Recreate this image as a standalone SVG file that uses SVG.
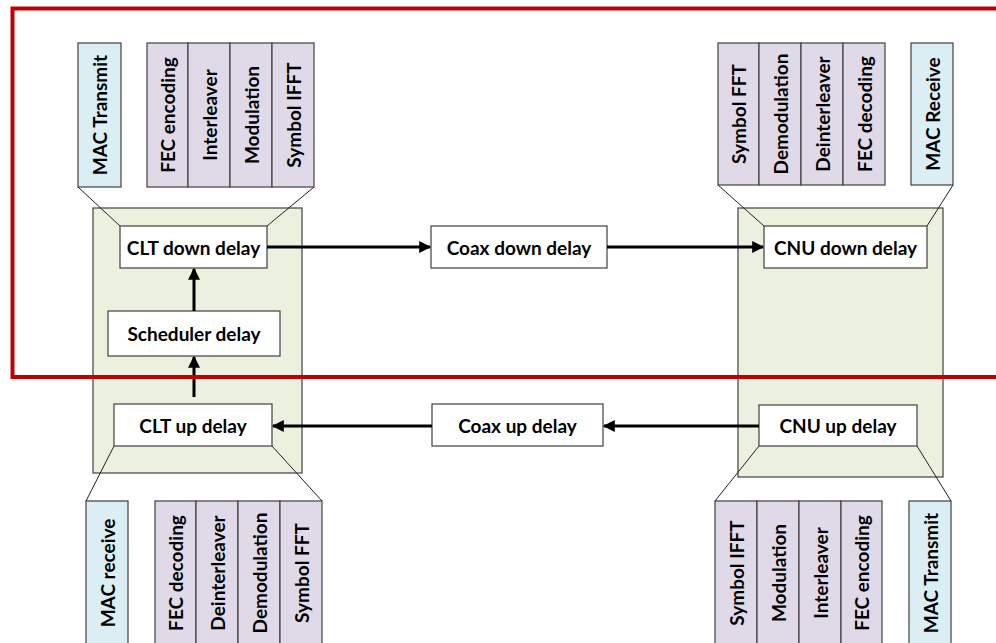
<svg xmlns="http://www.w3.org/2000/svg" width="996" height="643" viewBox="0 0 996 643">
<defs>
<style>
.bl{fill:#DAEEF3;stroke:#404040;stroke-width:1.2}
.pu{fill:#E0DAE8;stroke:#404040;stroke-width:1.2}
.gr{fill:#EBF1DE;stroke:#404040;stroke-width:1.2}
.wb{fill:#FFFFFF;stroke:#404040;stroke-width:1.2}
.zl{fill:none;stroke:#202020;stroke-width:1}
.t{font-family:Lato,"Open Sans",sans-serif;font-weight:bold;font-size:19px;fill:#000;text-anchor:middle;dominant-baseline:central}
.ar{fill:none;stroke:#000;stroke-width:3}
</style>
<marker id="ah" viewBox="0 0 10 10" refX="9" refY="5" markerWidth="4.5" markerHeight="4" orient="auto" markerUnits="strokeWidth">
<path d="M0,0 L10,5 L0,10 z" fill="#000"/>
</marker>
</defs>
<rect width="996" height="643" fill="#fff"/>

<g id="clt-block">
<rect class="gr" x="93" y="208" width="209" height="265"/>
</g>
<g id="cnu-block">
<rect class="gr" x="738" y="208" width="205" height="269"/>
</g>

<g id="zoom-lines">
<line class="zl" x1="78" y1="187" x2="120" y2="226"/>
<line class="zl" x1="314" y1="187" x2="267" y2="226"/>
<line class="zl" x1="718" y1="185" x2="764" y2="226"/>
<line class="zl" x1="953" y1="185" x2="927" y2="226"/>
<line class="zl" x1="114" y1="446" x2="86" y2="501"/>
<line class="zl" x1="272" y1="446" x2="322" y2="501"/>
<line class="zl" x1="759" y1="446" x2="715" y2="501"/>
<line class="zl" x1="917" y1="446" x2="951" y2="501"/>
</g>

<g id="clt-tx-mac"><rect class="bl" x="78" y="43" width="43" height="144"/><text class="t" transform="translate(99.5,115) rotate(-90)">MAC Transmit</text></g>
<g id="clt-tx-fec"><rect class="pu" x="147" y="43" width="41" height="144"/><text class="t" transform="translate(167.5,115) rotate(-90)">FEC encoding</text></g>
<g id="clt-tx-int"><rect class="pu" x="188" y="43" width="42" height="144"/><text class="t" transform="translate(209,115) rotate(-90)">Interleaver</text></g>
<g id="clt-tx-mod"><rect class="pu" x="230" y="43" width="42" height="144"/><text class="t" transform="translate(251,115) rotate(-90)">Modulation</text></g>
<g id="clt-tx-ifft"><rect class="pu" x="272" y="43" width="42" height="144"/><text class="t" transform="translate(293,115) rotate(-90)">Symbol IFFT</text></g>

<g id="cnu-rx-fft"><rect class="pu" x="718" y="43" width="41" height="142"/><text class="t" transform="translate(738.5,114) rotate(-90)">Symbol FFT</text></g>
<g id="cnu-rx-demod"><rect class="pu" x="759" y="43" width="42" height="142"/><text class="t" transform="translate(780,114) rotate(-90)">Demodulation</text></g>
<g id="cnu-rx-deint"><rect class="pu" x="801" y="43" width="42" height="142"/><text class="t" transform="translate(822,114) rotate(-90)">Deinterleaver</text></g>
<g id="cnu-rx-fec"><rect class="pu" x="843" y="43" width="42" height="142"/><text class="t" transform="translate(864,114) rotate(-90)">FEC decoding</text></g>
<g id="cnu-rx-mac"><rect class="bl" x="911" y="43" width="42" height="142"/><text class="t" transform="translate(932,114) rotate(-90)">MAC Receive</text></g>

<g id="clt-rx-mac"><rect class="bl" x="86" y="501" width="42" height="146"/><text class="t" transform="translate(107,573) rotate(-90)">MAC receive</text></g>
<g id="clt-rx-fec"><rect class="pu" x="155" y="501" width="41" height="146"/><text class="t" transform="translate(175.5,573) rotate(-90)">FEC decoding</text></g>
<g id="clt-rx-deint"><rect class="pu" x="196" y="501" width="42" height="146"/><text class="t" transform="translate(217,573) rotate(-90)">Deinterleaver</text></g>
<g id="clt-rx-demod"><rect class="pu" x="238" y="501" width="42" height="146"/><text class="t" transform="translate(259,573) rotate(-90)">Demodulation</text></g>
<g id="clt-rx-fft"><rect class="pu" x="280" y="501" width="42" height="146"/><text class="t" transform="translate(301,573) rotate(-90)">Symbol FFT</text></g>

<g id="cnu-tx-ifft"><rect class="pu" x="715" y="501" width="42" height="146"/><text class="t" transform="translate(736,573) rotate(-90)">Symbol IFFT</text></g>
<g id="cnu-tx-mod"><rect class="pu" x="757" y="501" width="42" height="146"/><text class="t" transform="translate(778,573) rotate(-90)">Modulation</text></g>
<g id="cnu-tx-int"><rect class="pu" x="799" y="501" width="42" height="146"/><text class="t" transform="translate(820,573) rotate(-90)">Interleaver</text></g>
<g id="cnu-tx-fec"><rect class="pu" x="841" y="501" width="41" height="146"/><text class="t" transform="translate(861.5,573) rotate(-90)">FEC encoding</text></g>
<g id="cnu-tx-mac"><rect class="bl" x="909" y="501" width="42" height="146"/><text class="t" transform="translate(930,573) rotate(-90)">MAC Transmit</text></g>

<g id="clt-down"><rect class="wb" x="120" y="226" width="147" height="42"/><text class="t" x="193.5" y="247">CLT down delay</text></g>
<g id="scheduler"><rect class="wb" x="108" y="311" width="172" height="45"/><text class="t" x="194" y="333.5">Scheduler delay</text></g>
<g id="clt-up"><rect class="wb" x="114" y="404" width="158" height="42"/><text class="t" x="193" y="425">CLT up delay</text></g>
<g id="coax-down"><rect class="wb" x="431" y="226" width="176" height="42"/><text class="t" x="519" y="247">Coax down delay</text></g>
<g id="coax-up"><rect class="wb" x="432" y="404" width="171" height="42"/><text class="t" x="517.5" y="425">Coax up delay</text></g>
<g id="cnu-down"><rect class="wb" x="764" y="226" width="163" height="42"/><text class="t" x="845.5" y="247">CNU down delay</text></g>
<g id="cnu-up"><rect class="wb" x="759" y="405" width="158" height="41"/><text class="t" x="838" y="425.5">CNU up delay</text></g>

<g id="connectors">
<line class="ar" x1="267" y1="247" x2="430" y2="247" marker-end="url(#ah)"/>
<line class="ar" x1="607" y1="247" x2="763" y2="247" marker-end="url(#ah)"/>
<line class="ar" x1="194" y1="311" x2="194" y2="269" marker-end="url(#ah)"/>
<line class="ar" x1="194" y1="397" x2="194" y2="357" marker-end="url(#ah)"/>
<line class="ar" x1="759" y1="426" x2="604" y2="426" marker-end="url(#ah)"/>
<line class="ar" x1="432" y1="426" x2="273" y2="426" marker-end="url(#ah)"/>
</g>

<g id="frame">
<path d="M1000,8.5 L12.5,8.5 L12.5,377 L1000,377" fill="none" stroke="#C00000" stroke-width="4"/>
</g>
</svg>
